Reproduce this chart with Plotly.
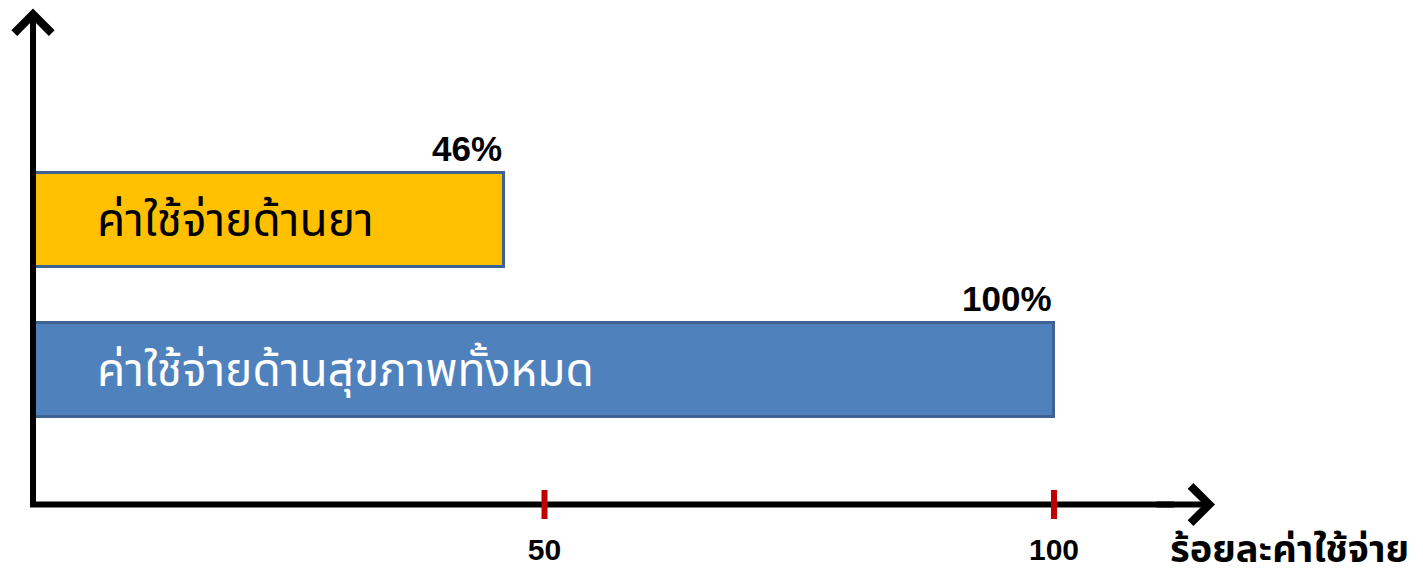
import plotly.graph_objects as go

# ---- data ----
categories = ["ค่าใช้จ่ายด้านสุขภาพทั้งหมด", "ค่าใช้จ่ายด้านยา"]
values = [100, 46]
value_labels = ["100%", "46%"]
bar_colors = ["#4F81BD", "#FFC000"]
inner_text_colors = ["white", "black"]
tick_values = [50, 100]
tick_labels = ["50", "100"]
x_title = "ร้อยละค่าใช้จ่าย"

W, H = 1423, 581
THAI = "Noto Sans Thai, Tahoma, Leelawadee UI, Loma, sans-serif"
LATIN = "Liberation Sans, Arial, sans-serif"

# axis geometry
X_RANGE = [-3.435, 136.21]
Y_RANGE = [-0.8967, 2.467]
X_AXIS_PAPER_Y = 0.1317   # paper height of the horizontal axis
X_AXIS_POS = -0.196       # data x of the vertical axis
X_AXIS_END = 115.8        # data x of the horizontal arrow tip
Y_AXIS_END = 2.41         # data y of the vertical arrow tip

fig = go.Figure()
fig.add_trace(go.Bar(
    y=categories, x=values, orientation="h", width=0.627,
    marker=dict(color=bar_colors, line=dict(color="#3E6392", width=3)),
    hoverinfo="skip", showlegend=False,
))

annotations = []
for c, v, lab in zip(categories, values, value_labels):
    annotations.append(dict(x=v, y=c, xref="x", yref="y", text=f"<b>{lab}</b>",
                            showarrow=False, xanchor="right", yanchor="middle",
                            yshift=72, font=dict(family=LATIN, size=35, color="black")))
for c, col in zip(categories, inner_text_colors):
    annotations.append(dict(x=5.9, y=c, xref="x", yref="y", text=c, showarrow=False,
                            xanchor="left", yanchor="middle", yshift=-2,
                            font=dict(family=THAI, size=46, color=col)))
# vertical axis with arrow
annotations.append(dict(x=X_AXIS_POS, y=Y_AXIS_END, ax=X_AXIS_POS, ay=-0.913,
                        xref="x", yref="y", axref="x", ayref="y", text="",
                        showarrow=True, arrowhead=4, arrowsize=1.2, arrowwidth=6,
                        arrowcolor="black"))
# arrowhead of horizontal axis
annotations.append(dict(x=X_AXIS_END, y=X_AXIS_PAPER_Y, ax=-60, ay=0,
                        xref="x", yref="paper", axref="pixel", ayref="pixel", text="",
                        showarrow=True, arrowhead=4, arrowsize=1.2, arrowwidth=6,
                        arrowcolor="black"))
annotations.append(dict(x=0.8208, y=0.0, xref="paper", yref="paper",
                        text=f"<b>{x_title}</b>", showarrow=False,
                        xanchor="left", yanchor="bottom",
                        font=dict(family=THAI, size=38, color="black")))

shapes = [dict(type="line", xref="x", yref="paper", x0=-0.49, x1=X_AXIS_END - 4,
               y0=X_AXIS_PAPER_Y, y1=X_AXIS_PAPER_Y,
               line=dict(color="black", width=6), layer="above")]
shapes += [dict(type="line", xref="x", yref="paper", x0=t, x1=t,
                y0=X_AXIS_PAPER_Y + 0.025, y1=X_AXIS_PAPER_Y - 0.025,
                line=dict(color="#C00000", width=6), layer="above")
           for t in tick_values]

fig.update_layout(
    width=W, height=H, margin=dict(l=0, r=0, t=0, b=0),
    plot_bgcolor="white", paper_bgcolor="white",
    xaxis=dict(range=X_RANGE, domain=[0, 1], showgrid=False, zeroline=False,
               showline=False, tickvals=tick_values, ticktext=tick_labels,
               ticks="", ticklabelstandoff=25,
               tickfont=dict(family=LATIN, size=30, color="black", weight="bold")),
    yaxis=dict(range=Y_RANGE, domain=[X_AXIS_PAPER_Y, 1], showgrid=False, zeroline=False,
               showline=False, showticklabels=False, type="category"),
    annotations=annotations, shapes=shapes, bargap=0,
)

fig.write_html("out.html", post_script="document.body.style.margin='0';",
               config={"displayModeBar": False})
